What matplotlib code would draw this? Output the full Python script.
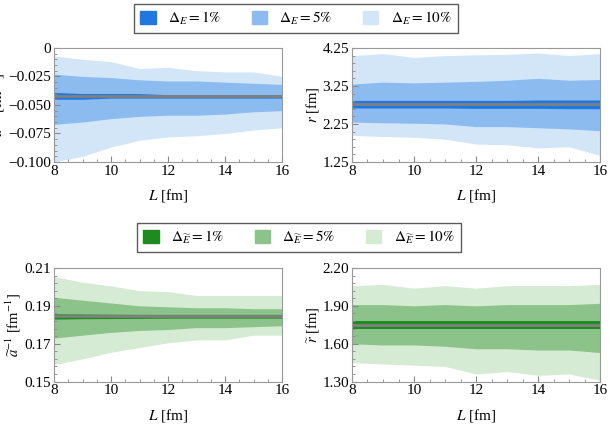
import matplotlib
matplotlib.use("Agg")
import matplotlib.pyplot as plt
from matplotlib.patches import Patch
from matplotlib.ticker import AutoMinorLocator

plt.rcParams["font.family"] = "Liberation Serif"
plt.rcParams["mathtext.fontset"] = "stix"

L = [8, 9, 10, 11, 12, 13, 14, 15, 16]

a_c = -0.042
a_10u = [-0.007, -0.010, -0.012, -0.018, -0.017, -0.020, -0.021, -0.021, -0.025]
a_10l = [-0.100, -0.095, -0.087, -0.081, -0.078, -0.077, -0.075, -0.072, -0.070]
a_5u = [-0.023, -0.025, -0.026, -0.028, -0.029, -0.029, -0.030, -0.031, -0.032]
a_5l = [-0.067, -0.065, -0.062, -0.060, -0.059, -0.059, -0.058, -0.056, -0.055]
a_1u = [-0.039, -0.040, -0.040, -0.040, -0.041, -0.041, -0.041, -0.041, -0.041]
a_1l = [-0.045, -0.045, -0.044, -0.044, -0.044, -0.044, -0.044, -0.044, -0.044]

r_c = 2.77
r_10u = [4.05, 4.10, 4.00, 4.05, 4.07, 4.08, 4.12, 4.05, 4.10]
r_10l = [1.95, 1.92, 1.90, 1.85, 1.72, 1.70, 1.62, 1.65, 1.42]
r_5u = [3.30, 3.35, 3.33, 3.35, 3.37, 3.40, 3.45, 3.40, 3.42]
r_5l = [2.30, 2.28, 2.27, 2.25, 2.18, 2.18, 2.15, 2.12, 2.07]
r_1u = [2.87, 2.87, 2.87, 2.87, 2.87, 2.87, 2.88, 2.88, 2.88]
r_1l = [2.67, 2.67, 2.67, 2.67, 2.66, 2.66, 2.66, 2.65, 2.65]

at_c = 0.1845
at_10u = [0.2055, 0.2025, 0.2005, 0.198, 0.1975, 0.1955, 0.1955, 0.1955, 0.1955]
at_10l = [0.159, 0.162, 0.1655, 0.168, 0.1705, 0.172, 0.172, 0.1745, 0.1745]
at_5u = [0.1945, 0.193, 0.1915, 0.190, 0.1895, 0.189, 0.189, 0.1885, 0.1885]
at_5l = [0.173, 0.1745, 0.176, 0.177, 0.1775, 0.1785, 0.1785, 0.179, 0.1795]
at_1u = [0.1858, 0.1857, 0.1856, 0.1855, 0.1855, 0.1855, 0.1855, 0.1855, 0.1855]
at_1l = [0.1830, 0.1832, 0.1833, 0.1834, 0.1835, 0.1835, 0.1835, 0.1835, 0.1835]

rt_c = 1.745
rt_10u = [2.06, 2.07, 2.04, 2.06, 2.04, 2.06, 2.06, 2.06, 2.07]
rt_10l = [1.45, 1.44, 1.43, 1.42, 1.36, 1.38, 1.35, 1.36, 1.31]
rt_5u = [1.91, 1.91, 1.90, 1.91, 1.90, 1.91, 1.91, 1.91, 1.92]
rt_5l = [1.60, 1.59, 1.59, 1.58, 1.56, 1.56, 1.55, 1.55, 1.53]
rt_1u = [1.78, 1.78, 1.78, 1.78, 1.78, 1.78, 1.78, 1.78, 1.78]
rt_1l = [1.72, 1.72, 1.72, 1.72, 1.72, 1.72, 1.72, 1.72, 1.72]

blue = ["#1f78e0", "#8cbcef", "#d3e6f8"]
green = ["#1f8a1f", "#8cc38a", "#d5ebd3"]

fig = plt.figure(figsize=(6.10, 4.24), dpi=100)

def panel(rect, c, bands, cols, ylim, yticks, ylab):
    ax = fig.add_axes(rect)
    (u10, l10), (u5, l5), (u1, l1) = bands
    ax.fill_between(L, l10, u10, color=cols[2], lw=0)
    ax.fill_between(L, l5, u5, color=cols[1], lw=0)
    ax.fill_between(L, l1, u1, color=cols[0], lw=0)
    ax.plot([L[0], L[-1]], [c, c], color="#808080", lw=2)
    ax.set_xlim(8, 16)
    ax.set_ylim(*ylim)
    ax.set_xticks([8, 10, 12, 14, 16])
    ax.set_yticks(yticks[0])
    ax.set_yticklabels(yticks[1])
    ax.xaxis.set_minor_locator(AutoMinorLocator(4))
    ax.yaxis.set_minor_locator(AutoMinorLocator(5))
    ax.tick_params(direction="in", labelsize=11, length=4, color="#888888", pad=2)
    ax.tick_params(which="minor", direction="in", length=2, color="#888888")
    for s in ax.spines.values():
        s.set_color("#999999")
    ax.set_xlabel(r"$L$ [fm]", fontsize=11, labelpad=7)
    ax.set_ylabel(ylab, fontsize=10.5, labelpad=1)
    return ax

panel([0.0885, 0.618, 0.374, 0.269], a_c,
      [(a_10u, a_10l), (a_5u, a_5l), (a_1u, a_1l)], blue, (-0.1, 0),
      ([-0.1, -0.075, -0.05, -0.025, 0], ["−0.100", "−0.075", "−0.050", "−0.025", "0"]),
      r"$a^{-1}$ [fm$^{-1}$]")
panel([0.577, 0.618, 0.407, 0.269], r_c,
      [(r_10u, r_10l), (r_5u, r_5l), (r_1u, r_1l)], blue, (1.25, 4.25),
      ([1.25, 2.25, 3.25, 4.25], ["1.25", "2.25", "3.25", "4.25"]),
      r"$r$ [fm]")
panel([0.0885, 0.10, 0.374, 0.268], at_c,
      [(at_10u, at_10l), (at_5u, at_5l), (at_1u, at_1l)], green, (0.15, 0.21),
      ([0.15, 0.17, 0.19, 0.21], ["0.15", "0.17", "0.19", "0.21"]),
      r"$\widetilde{a}^{-1}$ [fm$^{-1}$]")
panel([0.577, 0.10, 0.407, 0.268], rt_c,
      [(rt_10u, rt_10l), (rt_5u, rt_5l), (rt_1u, rt_1l)], green, (1.3, 2.2),
      ([1.3, 1.6, 1.9, 2.2], ["1.30", "1.60", "1.90", "2.20"]),
      r"$\widetilde{r}$ [fm]")

pcts = ["1\\%", "5\\%", "10\\%"]
hb = [Patch(color=c) for c in blue]
fig.legend(hb, [r"$\Delta_E = %s$" % p for p in pcts], loc="center",
           bbox_to_anchor=(0.485, 0.957), ncol=3, fontsize=11, frameon=True,
           fancybox=False, edgecolor="#333333", handlelength=1.0, handleheight=1.0,
           columnspacing=2.0, borderpad=0.4)
hg = [Patch(color=c) for c in green]
fig.legend(hg, [r"$\Delta_{\widetilde{E}} = %s$" % p for p in pcts], loc="center",
           bbox_to_anchor=(0.49, 0.44), ncol=3, fontsize=11, frameon=True,
           fancybox=False, edgecolor="#333333", handlelength=1.0, handleheight=1.0,
           columnspacing=2.0, borderpad=0.4)

fig.savefig("out.png", dpi=100)
